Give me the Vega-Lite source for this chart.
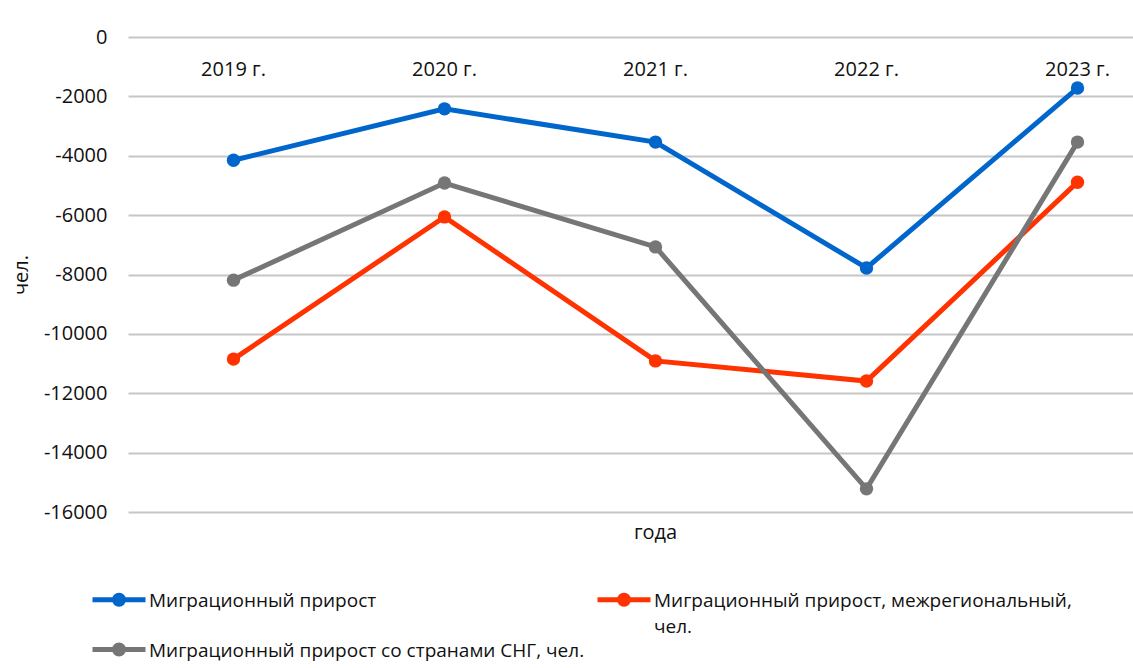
{
  "$schema": "https://vega.github.io/schema/vega-lite/v6.json",
  "width": 1005,
  "height": 475,
  "autosize": {"type": "none"},
  "padding": {"left": 128, "top": 37, "right": 0, "bottom": 156},
  "background": "white",
  "config": {"view": {"stroke": null}, "font": "Open Sans"},
  "data": {
    "values": [
      {"year": "2019 г.", "series": "Миграционный прирост", "value": -4150},
      {"year": "2020 г.", "series": "Миграционный прирост", "value": -2420},
      {"year": "2021 г.", "series": "Миграционный прирост", "value": -3540},
      {"year": "2022 г.", "series": "Миграционный прирост", "value": -7780},
      {"year": "2023 г.", "series": "Миграционный прирост", "value": -1720},
      {"year": "2019 г.", "series": "Миграционный прирост, межрегиональный, чел.", "value": -10850},
      {"year": "2020 г.", "series": "Миграционный прирост, межрегиональный, чел.", "value": -6060},
      {"year": "2021 г.", "series": "Миграционный прирост, межрегиональный, чел.", "value": -10910},
      {"year": "2022 г.", "series": "Миграционный прирост, межрегиональный, чел.", "value": -11590},
      {"year": "2023 г.", "series": "Миграционный прирост, межрегиональный, чел.", "value": -4890},
      {"year": "2019 г.", "series": "Миграционный прирост со странами СНГ, чел.", "value": -8190},
      {"year": "2020 г.", "series": "Миграционный прирост со странами СНГ, чел.", "value": -4920},
      {"year": "2021 г.", "series": "Миграционный прирост со странами СНГ, чел.", "value": -7070},
      {"year": "2022 г.", "series": "Миграционный прирост со странами СНГ, чел.", "value": -15220},
      {"year": "2023 г.", "series": "Миграционный прирост со странами СНГ, чел.", "value": -3540}
    ]
  },
  "mark": {"type": "line", "strokeWidth": 5, "point": {"filled": true, "size": 180, "opacity": 1}},
  "encoding": {
    "x": {
      "field": "year",
      "type": "nominal",
      "sort": null,
      "scale": {"type": "band", "range": [0, 1055]},
      "axis": {
        "orient": "bottom",
        "offset": -475,
        "domain": false,
        "ticks": false,
        "tickSize": 0,
        "grid": false,
        "labelAngle": 0,
        "labelPadding": 22,
        "labelFontSize": 20,
        "labelColor": "#111111",
        "title": "года",
        "titleFontSize": 20,
        "titleFontWeight": "normal",
        "titleColor": "#111111",
        "titleX": 527,
        "titleY": 495,
        "titleBaseline": "middle",
        "titleAlign": "center"
      }
    },
    "y": {
      "field": "value",
      "type": "quantitative",
      "scale": {"domain": [-16000, 0], "nice": false, "zero": false},
      "axis": {
        "values": [0, -2000, -4000, -6000, -8000, -10000, -12000, -14000, -16000],
        "labelExpr": "'' + datum.value",
        "domain": false,
        "ticks": false,
        "tickSize": 0,
        "labelPadding": 21,
        "labelFontSize": 20,
        "labelColor": "#111111",
        "gridColor": "#C6C6C6",
        "gridWidth": 2,
        "title": "чел.",
        "titleFontSize": 20,
        "titleFontWeight": "normal",
        "titleColor": "#111111",
        "titlePadding": 12
      }
    },
    "color": {
      "field": "series",
      "type": "nominal",
      "scale": {
        "domain": ["Миграционный прирост", "Миграционный прирост, межрегиональный, чел.", "Миграционный прирост со странами СНГ, чел."],
        "range": ["#0066CC", "#FF3300", "#767676"]
      },
      "legend": {
        "orient": "none",
        "legendX": -21.5,
        "legendY": 550,
        "direction": "horizontal",
        "columns": 2,
        "title": null,
        "padding": 0,
        "symbolType": "M-2.65,0L2.65,0M-0.45,0A0.45,0.45,0,1,0,0.45,0A0.45,0.45,0,1,0,-0.45,0Z",
        "symbolSize": 400,
        "symbolStrokeWidth": 5,
        "labelOffset": 17.5,
        "labelFontSize": 19,
        "labelColor": "#111111",
        "labelLimit": 0,
        "labelExpr": "datum.label == 'Миграционный прирост, межрегиональный, чел.' ? ['Миграционный прирост, межрегиональный,', 'чел.'] : [datum.label, ' ']",
        "columnPadding": 3,
        "rowPadding": -29,
        "encode": {
          "symbols": {
            "update": {
              "fill": {"scale": "color", "field": "value"},
              "stroke": {"scale": "color", "field": "value"},
              "strokeWidth": {"value": 5},
              "opacity": {"value": 1}
            }
          },
          "labels": {
            "update": {
              "baseline": {"value": "alphabetic"},
              "dy": {"value": 7},
              "lineHeight": {"value": 26}
            }
          }
        }
      }
    }
  }
}
